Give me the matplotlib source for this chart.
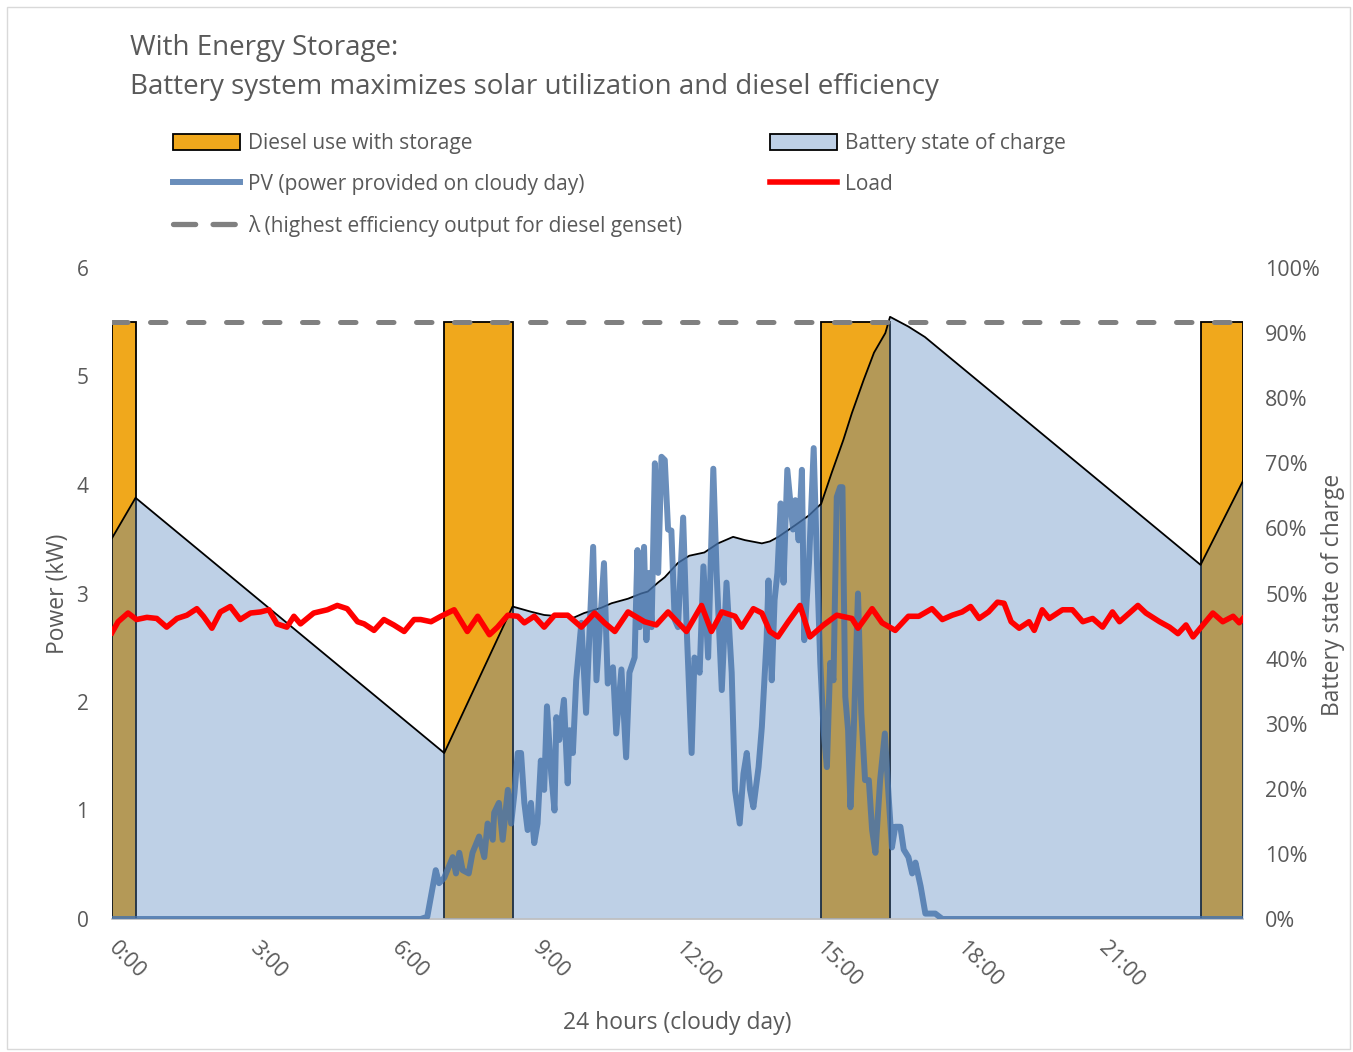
import numpy as np
import matplotlib
matplotlib.use("Agg")
import matplotlib.pyplot as plt
from matplotlib.patches import Patch, Rectangle
from matplotlib.lines import Line2D
from matplotlib.ticker import FuncFormatter

# -----------------------------
# Data
# -----------------------------
lambda_kw = 5.5          # highest efficiency output of the genset
soc_axis_max_kw = 6      # 100 % on the right axis lines up with 6 kW

diesel_start = [0.0, 7.05, 15.05, 23.1]
diesel_end = [0.5, 8.5, 16.5, 24.0]

soc_hours = [0.00, 0.50, 7.05, 8.50, 8.89, 9.17, 9.80, 10.02, 10.38, 10.60,
             10.95, 11.23, 11.37, 11.59, 11.73, 12.01, 12.25, 12.57, 12.86,
             13.18, 13.43, 13.79, 13.96, 14.14, 14.50, 14.79, 15.05, 15.27,
             15.52, 15.70, 15.95, 16.17, 16.41, 16.51, 16.90, 17.25, 23.10,
             24.00]
soc_pct = [58.5, 64.7, 25.5, 48.0, 47.2, 46.7, 46.3, 47.0, 47.8, 48.5,
           49.2, 50.0, 50.3, 51.7, 52.5, 54.7, 55.8, 56.3, 57.7,
           58.7, 58.2, 57.7, 58.0, 58.7, 60.5, 62.0, 63.8, 68.5,
           73.6, 77.7, 82.8, 87.0, 90.0, 92.5, 91.0, 89.4, 54.4,
           67.3]

pv_hours = [0.00, 6.55, 6.69, 6.87, 6.94, 7.05, 7.23, 7.30, 7.37, 7.44,
            7.57, 7.65, 7.79, 7.90, 7.97, 8.08, 8.11, 8.21, 8.29, 8.40,
            8.47, 8.54, 8.61, 8.68, 8.75, 8.82, 8.89, 8.96, 9.03, 9.10,
            9.17, 9.23, 9.32, 9.39, 9.43, 9.49, 9.59, 9.67, 9.71, 9.78,
            9.85, 9.96, 10.06, 10.21, 10.28, 10.44, 10.52, 10.63, 10.70, 10.81,
            10.91, 10.98, 11.09, 11.15, 11.20, 11.29, 11.34, 11.40, 11.45, 11.52,
            11.59, 11.66, 11.73, 11.80, 11.87, 11.94, 12.01, 12.12, 12.19, 12.30,
            12.36, 12.47, 12.55, 12.65, 12.76, 12.83, 12.94, 13.04, 13.15, 13.22,
            13.32, 13.40, 13.47, 13.54, 13.61, 13.72, 13.79, 13.89, 13.93, 14.00,
            14.06, 14.12, 14.19, 14.25, 14.33, 14.39, 14.45, 14.50, 14.57, 14.64,
            14.69, 14.79, 14.89, 14.96, 15.03, 15.10, 15.17, 15.24, 15.31, 15.38,
            15.45, 15.50, 15.56, 15.62, 15.67, 15.74, 15.83, 15.90, 15.98, 16.06,
            16.13, 16.20, 16.30, 16.40, 16.48, 16.55, 16.62, 16.73, 16.80, 16.90,
            16.98, 17.05, 17.16, 17.26, 17.47, 17.62, 24.00]
pv_kw = [0.00, 0.00, 0.02, 0.45, 0.33, 0.38, 0.57, 0.42, 0.61, 0.45,
         0.42, 0.61, 0.76, 0.57, 0.88, 0.73, 0.98, 1.07, 0.73, 1.19,
         0.88, 1.16, 1.53, 1.53, 1.07, 0.82, 1.07, 0.70, 0.88, 1.46,
         1.19, 1.96, 1.34, 1.00, 1.86, 1.65, 2.02, 1.25, 1.74, 1.53,
         2.20, 2.73, 1.90, 3.43, 2.20, 3.28, 2.17, 2.32, 1.71, 2.30,
         1.49, 2.27, 2.41, 3.40, 2.69, 3.43, 2.57, 3.19, 2.69, 4.20,
         3.19, 4.26, 4.23, 3.59, 3.58, 2.76, 2.69, 3.70, 2.73, 1.53,
         2.41, 2.27, 3.25, 2.41, 4.15, 3.19, 2.11, 3.10, 2.27, 1.19,
         0.88, 1.34, 1.53, 1.19, 1.03, 1.40, 1.77, 2.57, 3.12, 2.20,
         2.94, 3.19, 3.83, 3.10, 4.14, 3.86, 3.59, 3.86, 3.49, 4.14,
         2.57, 3.28, 4.34, 3.28, 2.36, 1.74, 1.40, 2.36, 2.20, 3.89,
         3.98, 3.98, 2.05, 1.74, 1.03, 1.74, 3.00, 1.90, 1.28, 1.28,
         0.82, 0.61, 1.28, 1.71, 1.13, 0.66, 0.85, 0.85, 0.64, 0.57,
         0.42, 0.52, 0.30, 0.05, 0.05, 0.00, 0.00]

load_hours = [0.00, 0.13, 0.34, 0.52, 0.74, 0.95, 1.16, 1.38, 1.59, 1.80,
              1.94, 2.12, 2.30, 2.51, 2.72, 2.94, 3.15, 3.33, 3.50, 3.71,
              3.86, 4.00, 4.28, 4.57, 4.78, 4.99, 5.21, 5.35, 5.56, 5.77,
              5.98, 6.20, 6.41, 6.55, 6.77, 6.98, 7.26, 7.54, 7.76, 8.01,
              8.18, 8.40, 8.61, 8.75, 8.96, 9.17, 9.39, 9.67, 9.96, 10.24,
              10.45, 10.67, 10.95, 11.30, 11.55, 11.80, 12.19, 12.51, 12.72, 12.94,
              13.22, 13.36, 13.61, 13.79, 13.96, 14.13, 14.35, 14.60, 14.81, 15.10,
              15.38, 15.70, 15.83, 16.13, 16.34, 16.62, 16.90, 17.12, 17.40, 17.62,
              17.83, 18.04, 18.22, 18.40, 18.60, 18.79, 18.93, 19.08, 19.25, 19.46,
              19.57, 19.74, 19.89, 20.17, 20.38, 20.60, 20.81, 21.02, 21.23, 21.38,
              21.59, 21.77, 21.94, 22.23, 22.44, 22.62, 22.79, 22.94, 23.15, 23.36,
              23.57, 23.79, 23.92, 24.00]
load_kw = [2.64, 2.74, 2.82, 2.76, 2.78, 2.77, 2.69, 2.77, 2.80, 2.86,
           2.79, 2.68, 2.83, 2.88, 2.76, 2.82, 2.83, 2.85, 2.72, 2.69,
           2.79, 2.72, 2.82, 2.85, 2.89, 2.86, 2.74, 2.72, 2.66, 2.76,
           2.71, 2.65, 2.76, 2.76, 2.74, 2.79, 2.85, 2.65, 2.79, 2.62,
           2.69, 2.80, 2.79, 2.73, 2.79, 2.69, 2.80, 2.80, 2.69, 2.82,
           2.73, 2.65, 2.83, 2.74, 2.71, 2.83, 2.65, 2.89, 2.65, 2.83,
           2.79, 2.69, 2.86, 2.82, 2.65, 2.60, 2.74, 2.89, 2.60, 2.71,
           2.80, 2.77, 2.68, 2.86, 2.73, 2.66, 2.79, 2.79, 2.86, 2.76,
           2.80, 2.83, 2.88, 2.77, 2.83, 2.92, 2.91, 2.74, 2.68, 2.74,
           2.66, 2.85, 2.77, 2.85, 2.85, 2.74, 2.77, 2.69, 2.83, 2.74,
           2.82, 2.89, 2.82, 2.74, 2.69, 2.63, 2.71, 2.60, 2.71, 2.82,
           2.74, 2.79, 2.73, 2.77]

x_ticks = [0, 3, 6, 9, 12, 15, 18, 21]
x_tick_labels = ["0:00", "3:00", "6:00", "9:00", "12:00", "15:00", "18:00", "21:00"]

# -----------------------------
# Style
# -----------------------------
plt.rcParams['font.family'] = ['Open Sans', 'DejaVu Sans']
text_color = "#595959"
orange = "#F0A81C"
soc_blue = "#4F81BD"
pv_blue = "#4572AA"
lambda_gray = "#808080"

# -----------------------------
# Figure
# -----------------------------
W, H = 1353, 1052
fig = plt.figure(figsize=(W / 100, H / 100), dpi=100)
fig.patches.append(Rectangle((7 / W, 3 / H), 1343 / W, 1042 / H,
                             transform=fig.transFigure, fill=False,
                             edgecolor="#D9D9D9", linewidth=1))

ax = fig.add_axes([112 / W, 1 - 919 / H, 1131 / W, 651 / H])
ax.set_xlim(0, 24)
ax.set_ylim(0, 6)

# diesel bars
widths = np.array(diesel_end) - np.array(diesel_start)
ax.bar(diesel_start, lambda_kw, width=widths, align='edge',
       color=orange, edgecolor="black", linewidth=1.3, zorder=1)

# battery state of charge (drawn on the kW scale so layering works)
soc_kw = np.array(soc_pct) * soc_axis_max_kw / 100
ax.fill_between(soc_hours, soc_kw, 0, color=soc_blue, alpha=0.37,
                linewidth=0, zorder=2)
ax.plot(soc_hours, soc_kw, color="black", linewidth=1.3, zorder=3)

# lambda line
ax.plot([0, 24], [lambda_kw, lambda_kw], color=lambda_gray, linewidth=3.6,
        dashes=(3.1, 4.5), dash_capstyle='round', zorder=4)

# PV and load
ax.plot(pv_hours, pv_kw, color=pv_blue, alpha=0.8, linewidth=4.3,
        solid_joinstyle='round', zorder=5)
ax.plot(load_hours, load_kw, color="red", linewidth=4,
        solid_joinstyle='round', zorder=6)

# -----------------------------
# Axes
# -----------------------------
for side in ["top", "left", "right"]:
    ax.spines[side].set_visible(False)
ax.spines["bottom"].set_color("#BFBFBF")
ax.spines["bottom"].set_linewidth(1.2)

ax.set_yticks(range(0, 7))
ax.tick_params(axis='y', length=0, pad=17, labelsize=15, labelcolor=text_color)
ax.set_xticks(x_ticks)
ax.set_xticklabels(x_tick_labels)
ax.tick_params(axis='x', length=0, pad=19, labelsize=15.5, labelcolor=text_color)
for lbl in ax.get_xticklabels():
    lbl.set_rotation(-45)
    lbl.set_ha('left')
    lbl.set_va('center')
    lbl.set_rotation_mode('anchor')

sec = ax.secondary_yaxis('right', functions=(lambda v: v / soc_axis_max_kw * 100,
                                             lambda p: p * soc_axis_max_kw / 100))
sec.set_yticks(range(0, 101, 10))
sec.yaxis.set_major_formatter(FuncFormatter(lambda v, pos: f"{v:.0f}%"))
sec.tick_params(axis='y', length=0, pad=16, labelsize=15.5, labelcolor=text_color)
sec.spines["right"].set_visible(False)

ax.set_ylabel("Power (kW)", fontsize=16.5, color=text_color)
ax.yaxis.set_label_coords(-0.037, 0.5)
fig.text(1333 / W, 1 - 595 / H, "Battery state of charge", fontsize=16.5,
         color=text_color, rotation=90, ha='center', va='center')
ax.set_xlabel("24 hours (cloudy day)", fontsize=16.5, color=text_color)
ax.xaxis.set_label_coords(0.5, -0.141)

# -----------------------------
# Title
# -----------------------------
fig.text(130 / W, 1 - 48 / H, "With Energy Storage:", fontsize=20,
         color=text_color, va='center', ha='left')
fig.text(130 / W, 1 - 87 / H,
         "Battery system maximizes solar utilization and diesel efficiency",
         fontsize=20, color=text_color, va='center', ha='left')

# -----------------------------
# Legend
# -----------------------------
leg_kw = dict(loc='upper left', frameon=False, fontsize=15, handlelength=3.2,
              handleheight=0.8, handletextpad=0.38, labelspacing=0.95,
              borderpad=0, borderaxespad=0, labelcolor=text_color)
left_handles = [
    Patch(facecolor=orange, edgecolor="black", linewidth=1.3),
    Line2D([], [], color=pv_blue, alpha=0.8, linewidth=4.3),
    Line2D([], [], color=lambda_gray, linewidth=3.8, dashes=(4.2, 3.3),
           dash_capstyle='round'),
]
left_labels = ["Diesel use with storage", "PV (power provided on cloudy day)",
               "λ (highest efficiency output for diesel genset)"]
right_handles = [
    Patch(facecolor="#BED0E6", edgecolor="black", linewidth=1.3),
    Line2D([], [], color="red", linewidth=4),
]
right_labels = ["Battery state of charge", "Load"]

leg1 = fig.legend(left_handles, left_labels,
                  bbox_to_anchor=(173 / W, 1 - 133 / H), **leg_kw)
leg2 = fig.legend(right_handles, right_labels,
                  bbox_to_anchor=(770 / W, 1 - 133 / H), **leg_kw)

fig.savefig("out.png", dpi=100)
